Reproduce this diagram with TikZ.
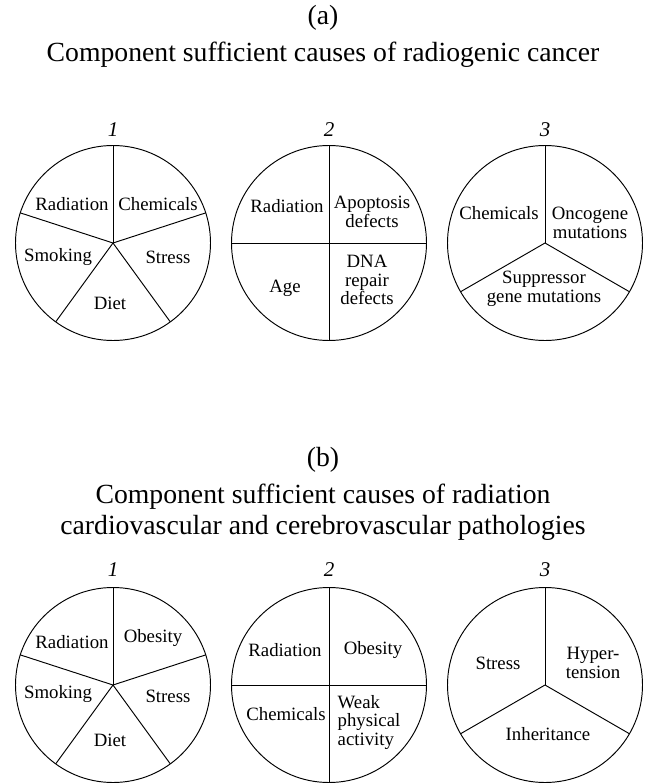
\documentclass[tikz,border=0pt]{standalone}
\usepackage{fontspec}
\setmainfont{Liberation Serif}
\usepackage{tikz}
\usetikzlibrary{positioning,calc}
\tikzset{
  pie/.style={circle,draw=black,line width=0.95pt,minimum size=195pt,inner sep=0pt,outer sep=0pt},
  spoke/.style={draw=black,line width=0.95pt},
  lab/.style={font=\fontsize{18.8}{18.5}\selectfont,align=center,inner sep=0pt},
  num/.style={font=\fontsize{21}{21}\selectfont\itshape,inner sep=0pt},
  head/.style={font=\fontsize{27.7}{31}\selectfont,align=center,inner sep=0pt},
}

\begin{document}
\begin{tikzpicture}[x=1pt,y=-1pt]
\useasboundingbox (0,0) rectangle (646,783);
% (a) radiogenic cancer
\node[head] (ta) at (323,18) {(a)};
\node[head] (tat) at (323,55) {Component sufficient causes of radiogenic cancer};
\node[pie] (a1) at (113,243) {};
\node[pie] (a2) at (329,243) {};
\node[pie] (a3) at (545,243) {};
\node[num] (na1) at (113,130) {1};
\node[num] (na2) at (329,130) {2};
\node[num] (na3) at (545,130) {3};
\draw[spoke] (a1.center)--(a1.90);
\draw[spoke] (a1.center)--(a1.18);
\draw[spoke] (a1.center)--(a1.-54);
\draw[spoke] (a1.center)--(a1.-126);
\draw[spoke] (a1.center)--(a1.162);
\draw[spoke] (a2.north)--(a2.south);
\draw[spoke] (a2.west)--(a2.east);
\draw[spoke] (a3.center)--(a3.90);
\draw[spoke] (a3.center)--(a3.210);
\draw[spoke] (a3.center)--(a3.330);
\node[lab] (a1r) at (72,204) {Radiation};
\node[lab] (a1c) at (158,204) {Chemicals};
\node[lab] (a1s) at (58,257) {Smoking};
\node[lab] (a1t) at (168,257) {Stress};
\node[lab] (a1d) at (110,303) {Diet};
\node[lab] (a2r) at (287,206) {Radiation};
\node[lab] (a2a) at (372,212) {Apoptosis\\defects};
\node[lab] (a2g) at (285,288) {Age};
\node[lab] (a2d) at (367,280) {DNA\\repair\\defects};
\node[lab] (a3c) at (499,213) {Chemicals};
\node[lab] (a3o) at (590,223) {Oncogene\\mutations};
\node[lab] (a3s) at (544,289) {Suppressor\\gene mutations};
% (b) cardiovascular and cerebrovascular
\node[head] (tb) at (323,460) {(b)};
\node[head] (tbt) at (323,512) {Component sufficient causes of radiation\\cardiovascular and cerebrovascular pathologies};
\node[pie] (b1) at (113,685) {};
\node[pie] (b2) at (329,685) {};
\node[pie] (b3) at (545,685) {};
\node[num] (nb1) at (113,570) {1};
\node[num] (nb2) at (329,570) {2};
\node[num] (nb3) at (545,570) {3};
\draw[spoke] (b1.center)--(b1.90);
\draw[spoke] (b1.center)--(b1.18);
\draw[spoke] (b1.center)--(b1.-54);
\draw[spoke] (b1.center)--(b1.-126);
\draw[spoke] (b1.center)--(b1.162);
\draw[spoke] (b2.north)--(b2.south);
\draw[spoke] (b2.west)--(b2.east);
\draw[spoke] (b3.center)--(b3.90);
\draw[spoke] (b3.center)--(b3.210);
\draw[spoke] (b3.center)--(b3.330);
\node[lab] (b1r) at (72,642) {Radiation};
\node[lab] (b1o) at (153,638) {Obesity};
\node[lab] (b1s) at (58,694) {Smoking};
\node[lab] (b1t) at (168,696) {Stress};
\node[lab] (b1d) at (110,740) {Diet};
\node[lab] (b2r) at (285,650) {Radiation};
\node[lab] (b2o) at (373,650) {Obesity};
\node[lab] (b2c) at (286,714) {Chemicals};
\node[lab,align=left] (b2w) at (369,722) {Weak\\physical\\activity};
\node[lab] (b3s) at (498,663) {Stress};
\node[lab] (b3h) at (593,663) {Hyper-\\tension};
\node[lab] (b3i) at (548,734) {Inheritance};
\end{tikzpicture}
\end{document}
